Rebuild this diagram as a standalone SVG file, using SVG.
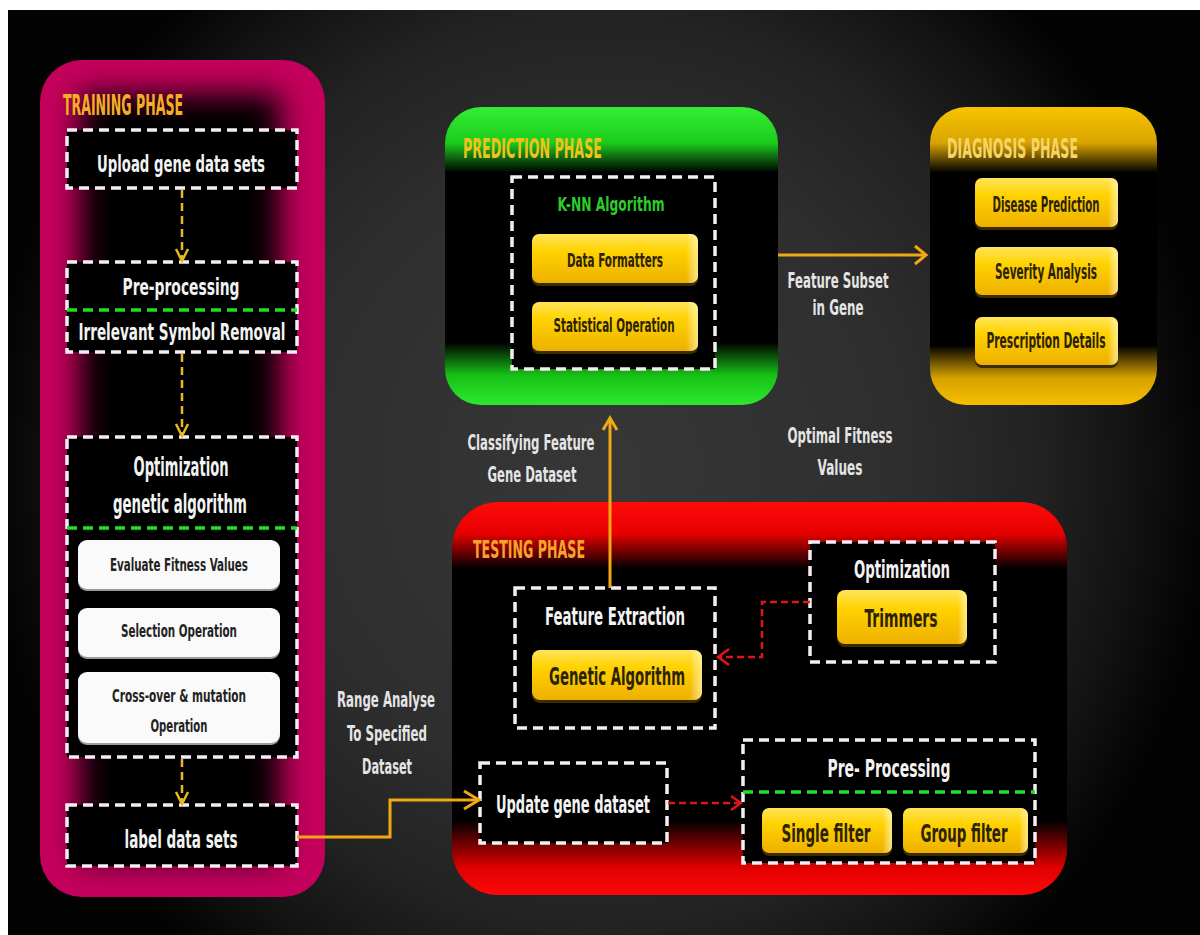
<svg xmlns="http://www.w3.org/2000/svg" width="1200" height="935" viewBox="0 0 1200 935">
<defs>
<radialGradient id="bg" cx="600" cy="470" r="640" gradientUnits="userSpaceOnUse" gradientTransform="translate(600 470) scale(0.95 1) translate(-600 -470)">
<stop offset="0" stop-color="#373737"/>
<stop offset="0.5" stop-color="#2e2e2e"/>
<stop offset="0.72" stop-color="#222"/>
<stop offset="0.88" stop-color="#121212"/>
<stop offset="1" stop-color="#030303"/>
</radialGradient>
<linearGradient id="gGreen" x1="0" y1="0" x2="0" y2="1">
<stop offset="0" stop-color="#33ee33"/>
<stop offset="0.12" stop-color="#1ccc1c"/>
<stop offset="0.22" stop-color="#000"/>
<stop offset="0.79" stop-color="#000"/>
<stop offset="0.9" stop-color="#16c016"/>
<stop offset="1" stop-color="#2ee82e"/>
</linearGradient>
<linearGradient id="gGold" x1="0" y1="0" x2="0" y2="1">
<stop offset="0" stop-color="#f8c400"/>
<stop offset="0.12" stop-color="#d9a400"/>
<stop offset="0.22" stop-color="#000"/>
<stop offset="0.8" stop-color="#000"/>
<stop offset="0.91" stop-color="#d8a200"/>
<stop offset="1" stop-color="#f6bd00"/>
</linearGradient>
<linearGradient id="gRed" x1="0" y1="0" x2="0" y2="1">
<stop offset="0" stop-color="#ff0a0a"/>
<stop offset="0.08" stop-color="#e60000"/>
<stop offset="0.17" stop-color="#000"/>
<stop offset="0.81" stop-color="#000"/>
<stop offset="0.93" stop-color="#e00000"/>
<stop offset="1" stop-color="#ff0808"/>
</linearGradient>
<linearGradient id="gBtn" x1="0" y1="0" x2="0" y2="1">
<stop offset="0" stop-color="#ffe55a"/>
<stop offset="0.35" stop-color="#ffd200"/>
<stop offset="1" stop-color="#eeb000"/>
</linearGradient>
<linearGradient id="gBtnEdge" x1="0" y1="0" x2="1" y2="0">
<stop offset="0" stop-color="#fff" stop-opacity="0"/>
<stop offset="0.93" stop-color="#fff" stop-opacity="0"/>
<stop offset="1" stop-color="#fff6b0" stop-opacity="0.7"/>
</linearGradient>
<filter id="blur" x="-30%" y="-10%" width="160%" height="120%">
<feGaussianBlur stdDeviation="15"/>
</filter>
<clipPath id="trainClip"><rect x="40" y="60" width="285" height="837" rx="42"/></clipPath>
</defs>
<style>
text{font-family:"DejaVu Sans Condensed","DejaVu Sans",sans-serif;font-weight:bold;font-stretch:condensed}
.w{fill:#f3f3f3}
.d{fill:#2b2200}
.k{fill:#222}
.lbl{fill:#e4e4e4}
.mid{text-anchor:middle}
.dash{fill:#000;stroke:#f4eef4;stroke-width:3.5;stroke-dasharray:10 6}
.gdash{fill:none;stroke:#26dd26;stroke-width:3.5;stroke-dasharray:10 6}
.btn{fill:url(#gBtn)}
.btnE{fill:url(#gBtnEdge)}
.sh{fill:#3a2c00}
.wb{fill:#fafafa}
.wbs{fill:#9a9a9a}
.ya{fill:none;stroke:#e8b820;stroke-width:2.5;stroke-dasharray:8 5}
.yh{fill:none;stroke:#e8b820;stroke-width:2.5}
.oa{fill:none;stroke:#f2a814;stroke-width:3}
.ra{fill:none;stroke:#e01515;stroke-width:2.5;stroke-dasharray:7 4}
.rh{fill:none;stroke:#e01515;stroke-width:2.5}
</style>
<rect x="0" y="0" width="1200" height="935" fill="#fff"/>
<rect x="8" y="10" width="1192" height="925" fill="url(#bg)"/>

<g id="training-phase">
<g clip-path="url(#trainClip)">
<rect x="40" y="60" width="285" height="837" fill="#c4005c"/>
<rect x="80" y="94" width="200" height="766" fill="#000" filter="url(#blur)"/>
</g>
<text x="63" y="115" font-size="28" fill="#f3af22" textLength="120" lengthAdjust="spacingAndGlyphs">TRAINING PHASE</text>
</g>

<g id="upload">
<rect class="dash" x="67" y="130" width="230" height="58"/>
<text class="w mid" x="181" y="172" font-size="23" textLength="168" lengthAdjust="spacingAndGlyphs">Upload gene data sets</text>
</g>

<g id="preprocessing">
<rect class="dash" x="67" y="262" width="230" height="90"/>
<line class="gdash" x1="67" y1="310" x2="297" y2="310"/>
<text class="w mid" x="181" y="295" font-size="23" textLength="117" lengthAdjust="spacingAndGlyphs">Pre-processing</text>
<text class="w mid" x="182" y="340" font-size="23" textLength="207" lengthAdjust="spacingAndGlyphs">Irrelevant Symbol Removal</text>
</g>

<g id="optimization-ga">
<rect class="dash" x="67" y="437" width="230" height="320"/>
<line class="gdash" x1="67" y1="528" x2="297" y2="528"/>
<text class="w mid" x="181" y="476" font-size="26" textLength="95" lengthAdjust="spacingAndGlyphs">Optimization</text>
<text class="w mid" x="180" y="513" font-size="26" textLength="134" lengthAdjust="spacingAndGlyphs">genetic algorithm</text>
</g>

<g id="evaluate">
<rect class="wbs" x="78" y="542" width="202" height="49" rx="9"/>
<rect class="wb" x="78" y="540" width="202" height="49" rx="9"/>
<text class="k mid" x="179" y="571" font-size="18" textLength="138" lengthAdjust="spacingAndGlyphs">Evaluate Fitness Values</text>
</g>
<g id="selection">
<rect class="wbs" x="78" y="610" width="202" height="49" rx="9"/>
<rect class="wb" x="78" y="608" width="202" height="49" rx="9"/>
<text class="k mid" x="179" y="637" font-size="18" textLength="116" lengthAdjust="spacingAndGlyphs">Selection Operation</text>
</g>
<g id="crossover">
<rect class="wbs" x="78" y="674" width="202" height="71" rx="9"/>
<rect class="wb" x="78" y="672" width="202" height="71" rx="9"/>
<text class="k mid" x="179" y="702" font-size="18" textLength="134" lengthAdjust="spacingAndGlyphs">Cross-over &amp; mutation</text>
<text class="k mid" x="179" y="732" font-size="18" textLength="57" lengthAdjust="spacingAndGlyphs">Operation</text>
</g>

<g id="label-data">
<rect class="dash" x="67" y="805" width="230" height="61"/>
<text class="w mid" x="181" y="848" font-size="25" textLength="113" lengthAdjust="spacingAndGlyphs">label data sets</text>
</g>

<g id="prediction-phase">
<rect x="445" y="107" width="333" height="298" rx="36" fill="url(#gGreen)"/>
<text x="463" y="158" font-size="26" fill="#f2c21c" textLength="139" lengthAdjust="spacingAndGlyphs">PREDICTION PHASE</text>
</g>
<g id="knn">
<rect class="dash" x="512" y="177" width="203" height="192"/>
<text class="mid" x="611" y="211" font-size="19" fill="#2ccc2c" textLength="107" lengthAdjust="spacingAndGlyphs">K-NN Algorithm</text>
</g>
<g id="data-formatters">
<rect class="sh" x="532" y="237" width="166" height="49" rx="7"/>
<rect class="btn" x="532" y="234" width="166" height="49" rx="7"/>
<rect class="btnE" x="532" y="234" width="166" height="49" rx="7"/>
<text class="d mid" x="615" y="267" font-size="19" textLength="96" lengthAdjust="spacingAndGlyphs">Data Formatters</text>
</g>
<g id="statistical">
<rect class="sh" x="532" y="305" width="166" height="49" rx="7"/>
<rect class="btn" x="532" y="302" width="166" height="49" rx="7"/>
<rect class="btnE" x="532" y="302" width="166" height="49" rx="7"/>
<text class="d mid" x="614" y="332" font-size="19" textLength="121" lengthAdjust="spacingAndGlyphs">Statistical Operation</text>
</g>

<g id="diagnosis-phase">
<rect x="930" y="107" width="227" height="298" rx="36" fill="url(#gGold)"/>
<text x="947" y="158" font-size="26" fill="#f6d466" textLength="131" lengthAdjust="spacingAndGlyphs">DIAGNOSIS PHASE</text>
</g>
<g id="disease-prediction">
<rect class="sh" x="975" y="181" width="143" height="49" rx="7"/>
<rect class="btn" x="975" y="178" width="143" height="49" rx="7"/>
<rect class="btnE" x="975" y="178" width="143" height="49" rx="7"/>
<text class="d mid" x="1046" y="212" font-size="21" textLength="107" lengthAdjust="spacingAndGlyphs">Disease Prediction</text>
</g>
<g id="severity">
<rect class="sh" x="975" y="250" width="143" height="48" rx="7"/>
<rect class="btn" x="975" y="247" width="143" height="48" rx="7"/>
<rect class="btnE" x="975" y="247" width="143" height="48" rx="7"/>
<text class="d mid" x="1046" y="279" font-size="21" textLength="102" lengthAdjust="spacingAndGlyphs">Severity Analysis</text>
</g>
<g id="prescription">
<rect class="sh" x="975" y="320" width="143" height="48" rx="7"/>
<rect class="btn" x="975" y="317" width="143" height="48" rx="7"/>
<rect class="btnE" x="975" y="317" width="143" height="48" rx="7"/>
<text class="d mid" x="1046" y="348" font-size="21" textLength="119" lengthAdjust="spacingAndGlyphs">Prescription  Details</text>
</g>

<g id="testing-phase">
<rect x="452" y="502" width="615" height="393" rx="46" fill="url(#gRed)"/>
<text x="473" y="558" font-size="25" fill="#f5a32c" textLength="112" lengthAdjust="spacingAndGlyphs">TESTING PHASE</text>
</g>
<g id="feature-extraction">
<rect class="dash" x="515" y="588" width="200" height="140"/>
<text class="w mid" x="615" y="625" font-size="24" textLength="140" lengthAdjust="spacingAndGlyphs">Feature Extraction</text>
</g>
<g id="genetic-algorithm">
<rect class="sh" x="532" y="653" width="170" height="50" rx="8"/>
<rect class="btn" x="532" y="650" width="170" height="50" rx="8"/>
<rect class="btnE" x="532" y="650" width="170" height="50" rx="8"/>
<text class="d mid" x="617" y="685" font-size="25" textLength="136" lengthAdjust="spacingAndGlyphs">Genetic Algorithm</text>
</g>
<g id="optimization-test">
<rect class="dash" x="810" y="542" width="185" height="120"/>
<text class="w mid" x="902" y="578" font-size="25" textLength="96" lengthAdjust="spacingAndGlyphs">Optimization</text>
</g>
<g id="trimmers">
<rect class="sh" x="837" y="593" width="130" height="54" rx="8"/>
<rect class="btn" x="837" y="590" width="130" height="54" rx="8"/>
<rect class="btnE" x="837" y="590" width="130" height="54" rx="8"/>
<text class="d mid" x="901" y="627" font-size="25" textLength="73" lengthAdjust="spacingAndGlyphs">Trimmers</text>
</g>
<g id="update-gene">
<rect class="dash" x="480" y="763" width="187" height="80"/>
<text class="w mid" x="573" y="813" font-size="25" textLength="154" lengthAdjust="spacingAndGlyphs">Update gene dataset</text>
</g>
<g id="pre-processing-test">
<rect class="dash" x="743" y="740" width="292" height="123"/>
<line class="gdash" x1="743" y1="792" x2="1035" y2="792"/>
<text class="w mid" x="889" y="777" font-size="25" textLength="123" lengthAdjust="spacingAndGlyphs">Pre- Processing</text>
</g>
<g id="single-filter">
<rect class="sh" x="762" y="811" width="130" height="45" rx="7"/>
<rect class="btn" x="762" y="808" width="130" height="45" rx="7"/>
<rect class="btnE" x="762" y="808" width="130" height="45" rx="7"/>
<text class="d mid" x="826" y="842" font-size="25" textLength="89" lengthAdjust="spacingAndGlyphs">Single filter</text>
</g>
<g id="group-filter">
<rect class="sh" x="903" y="811" width="125" height="45" rx="7"/>
<rect class="btn" x="903" y="808" width="125" height="45" rx="7"/>
<rect class="btnE" x="903" y="808" width="125" height="45" rx="7"/>
<text class="d mid" x="964" y="842" font-size="25" textLength="87" lengthAdjust="spacingAndGlyphs">Group filter</text>
</g>

<g id="connectors">
<line class="ya" x1="182" y1="190" x2="182" y2="260"/>
<polyline class="yh" points="176,249 182,261 188,249"/>
<line class="ya" x1="182" y1="354" x2="182" y2="435"/>
<polyline class="yh" points="176,424 182,436 188,424"/>
<line class="ya" x1="182" y1="759" x2="182" y2="803"/>
<polyline class="yh" points="176,792 182,804 188,792"/>
<polyline class="oa" points="297,837 390,837 390,800 478,800"/>
<polyline class="oa" points="464,791 479,800 464,809"/>
<line class="oa" x1="778" y1="255" x2="925" y2="255"/>
<polyline class="oa" points="915,246 926,255 915,264"/>
<line class="oa" x1="610" y1="588" x2="610" y2="419"/>
<polyline class="oa" points="603,430 610,418 617,430"/>
<polyline class="ra" points="810,602 762,602 762,657 719,657"/>
<polyline class="rh" points="729,649 718,657 729,665"/>
<line class="ra" x1="668" y1="803" x2="740" y2="803"/>
<polyline class="rh" points="731,796 741,803 731,810"/>
</g>

<g id="labels">
<text class="lbl mid" x="386" y="707" font-size="22" textLength="98" lengthAdjust="spacingAndGlyphs">Range Analyse</text>
<text class="lbl mid" x="387" y="741" font-size="22" textLength="80" lengthAdjust="spacingAndGlyphs">To Specified</text>
<text class="lbl mid" x="387" y="774" font-size="22" textLength="50" lengthAdjust="spacingAndGlyphs">Dataset</text>
<text class="lbl mid" x="838" y="288" font-size="21" textLength="101" lengthAdjust="spacingAndGlyphs">Feature Subset</text>
<text class="lbl mid" x="838" y="315" font-size="21" textLength="51" lengthAdjust="spacingAndGlyphs">in Gene</text>
<text class="lbl mid" x="531" y="450" font-size="21" textLength="127" lengthAdjust="spacingAndGlyphs">Classifying Feature</text>
<text class="lbl mid" x="532" y="482" font-size="21" textLength="89" lengthAdjust="spacingAndGlyphs">Gene Dataset</text>
<text class="lbl mid" x="840" y="443" font-size="21" textLength="105" lengthAdjust="spacingAndGlyphs">Optimal Fitness</text>
<text class="lbl mid" x="840" y="475" font-size="21" textLength="45" lengthAdjust="spacingAndGlyphs">Values</text>
</g>
</svg>
